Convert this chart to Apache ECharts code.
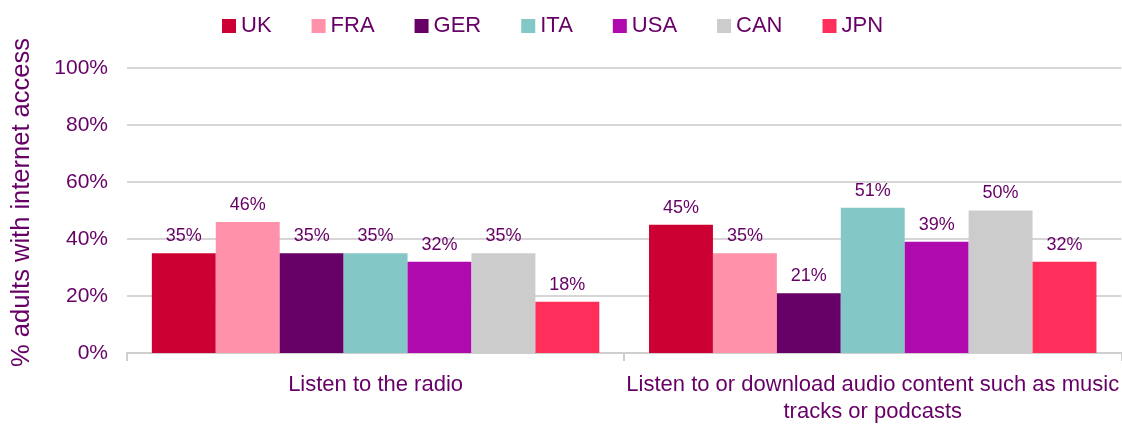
<!DOCTYPE html>
<html>
<head>
<meta charset="utf-8">
<script src="https://cdn.jsdelivr.net/npm/echarts@6/dist/echarts.min.js"></script>
<style>
  html, body { margin: 0; padding: 0; background: #ffffff; }
  #chart { width: 1122px; height: 425px; }
</style>
</head>
<body>
<div id="chart"></div>
<script>
// Activities (x-axis categories)
const categories = [
  'Listen to the radio',
  'Listen to or download audio content such as music\ntracks or podcasts'
];
// Countries and their colours
const countries = ['UK', 'FRA', 'GER', 'ITA', 'USA', 'CAN', 'JPN'];
const colors = ['#CC0033', '#FF91AA', '#660066', '#83C7C7', '#AE0AAE', '#CCCCCC', '#FF2E5B'];
// % adults with internet access, per country, per activity
const UK  = [35, 45];
const FRA = [46, 35];
const GER = [35, 21];
const ITA = [35, 51];
const USA = [32, 39];
const CAN = [35, 50];
const JPN = [18, 32];
const values = [UK, FRA, GER, ITA, USA, CAN, JPN];
// Y-axis ticks
const yTicks = [0, 20, 40, 60, 80, 100];

const textColor = '#660066';
const font = 'Liberation Sans, Arial, sans-serif';

const chart = echarts.init(document.getElementById('chart'));
chart.setOption({
  animation: false,
  textStyle: { fontFamily: font },
  legend: {
    top: 10,
    left: 217,
    itemWidth: 14,
    itemHeight: 14,
    itemGap: 40,
    icon: 'rect',
    textStyle: { color: textColor, fontSize: 22, fontFamily: font },
    data: countries
  },
  grid: { left: 127, right: 0, top: 68, bottom: 72 },
  xAxis: {
    type: 'category',
    data: categories,
    axisLine: { lineStyle: { color: '#CFCFCF', width: 2 } },
    axisTick: { show: true, length: 8, lineStyle: { color: '#CFCFCF', width: 2 } },
    axisLabel: {
      color: textColor, fontSize: 22, fontFamily: font,
      margin: 18, lineHeight: 27, interval: 0
    }
  },
  yAxis: {
    type: 'value',
    min: yTicks[0],
    max: yTicks[yTicks.length - 1],
    interval: 20,
    name: '% adults with internet access',
    nameLocation: 'middle',
    nameGap: 92,
    nameTextStyle: {
      color: textColor, fontSize: 25.5, fontFamily: font,
      padding: [0, 0, 0, 16]
    },
    axisLine: { show: false },
    axisTick: { show: false },
    splitLine: { lineStyle: { color: '#D6D6D6', width: 2 } },
    axisLabel: {
      color: textColor, fontSize: 21, fontFamily: font, margin: 19,
      formatter: v => v + '%'
    }
  },
  series: countries.map((name, i) => ({
    name,
    type: 'bar',
    data: values[i],
    barGap: '0%',
    barCategoryGap: '10%',
    itemStyle: { color: colors[i] },
    label: {
      show: true,
      position: 'top',
      distance: 8,
      color: textColor,
      fontSize: 18,
      fontFamily: font,
      formatter: p => p.value + '%'
    }
  }))
});
</script>
</body>
</html>
